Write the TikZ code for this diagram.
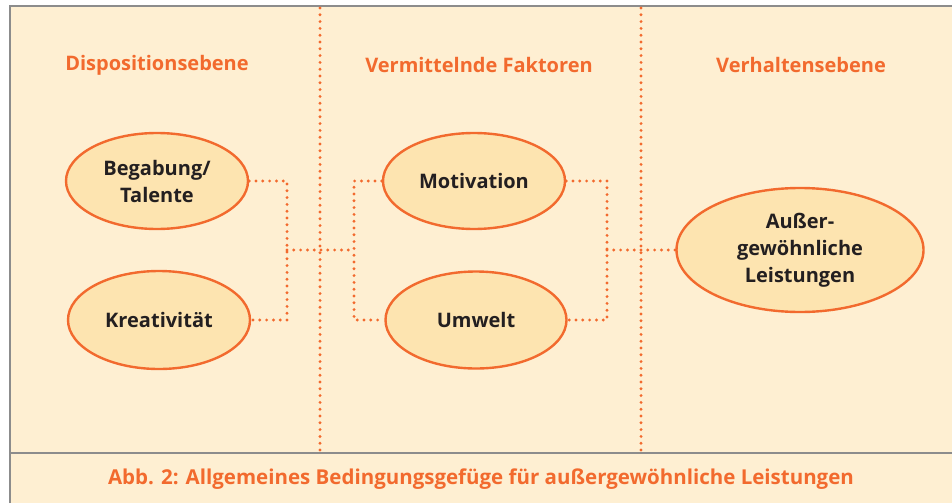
\documentclass[tikz,border=0pt]{standalone}
\usepackage{fontspec}
\setmainfont{Open Sans}
\usetikzlibrary{shapes.geometric}
\definecolor{bgc}{HTML}{FEEFD2}
\definecolor{ellc}{HTML}{FDE4B0}
\definecolor{orc}{HTML}{F26A2E}
\definecolor{grc}{HTML}{8C8C8C}
\definecolor{txc}{HTML}{231F20}
\tikzset{
  oval/.style={ellipse, draw=orc, line width=2.4pt, fill=ellc, inner sep=0pt,
    align=center, font=\bfseries\fontsize{20}{27}\selectfont, text=txc},
  head/.style={font=\bfseries\fontsize{20}{24}\selectfont, text=orc},
  dotline/.style={draw=orc, line width=3.2pt, line cap=round, dash pattern=on 0pt off 6.8pt},
  frameline/.style={draw=grc, line width=1.3pt}
}
\begin{document}
\begin{tikzpicture}[x=1pt,y=-1pt]
\useasboundingbox (0,0) rectangle (952,503);
\fill[white] (0,0) rectangle (952,503);
\fill[bgc] (10,6) rectangle (952,503);
\draw[frameline] (10,503) -- (10,6) -- (952,6);
\draw[frameline] (10,453) -- (952,453);
\coordinate (v1t) at (320,8);
\coordinate (v1b) at (320,450);
\coordinate (v2t) at (641,8);
\coordinate (v2b) at (641,450);
\draw[dotline] (v1t) -- (v1b);
\draw[dotline] (v2t) -- (v2b);
\node[head] (h1) at (157,65) {Dispositionsebene};
\node[head] (h2) at (479,65) {Vermittelnde Faktoren};
\node[head] (h3) at (801,65) {Verhaltensebene};
\node[oval, minimum width=182pt, minimum height=96pt] (beg) at (157,181) {Begabung/\\Talente};
\node[oval, minimum width=182pt, minimum height=98pt] (kre) at (159,320) {Kreativität};
\node[oval, minimum width=182pt, minimum height=96pt] (mot) at (474,181) {Motivation};
\node[oval, minimum width=181pt, minimum height=97pt] (umw) at (476,320) {Umwelt};
\node[oval, minimum width=247pt, minimum height=124pt] (aus) at (800,250) {Außer-\\gewöhnliche\\Leistungen};
\coordinate (j1) at (287,250);
\coordinate (j2) at (354,250);
\coordinate (j3) at (607,250);
\draw[dotline] (beg.east) -| (j1) |- (kre.east);
\draw[dotline] (j1) -- (j2);
\draw[dotline] (mot.west) -| (j2) |- (umw.west);
\draw[dotline] (mot.east) -| (j3) |- (umw.east);
\draw[dotline] (j3) -- (aus.west);
\node[head, font=\bfseries\fontsize{20.5}{24}\selectfont] (cap) at (481,479) {Abb. 2: Allgemeines Bedingungsgefüge für außergewöhnliche Leistungen};
\end{tikzpicture}
\end{document}
